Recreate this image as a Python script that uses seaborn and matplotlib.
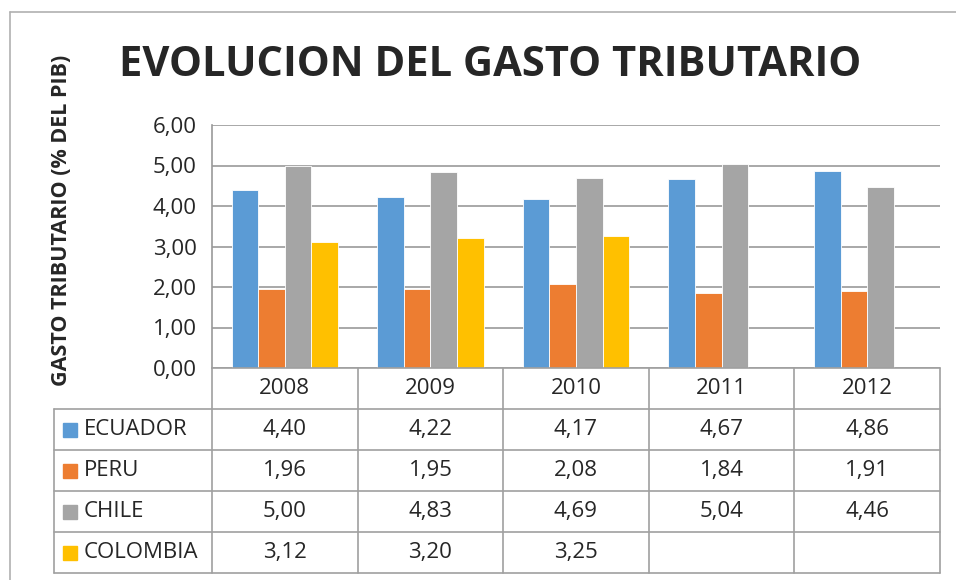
import matplotlib
matplotlib.use("Agg")
import matplotlib.pyplot as plt
import seaborn as sns
import pandas as pd
from matplotlib.patches import Rectangle
from matplotlib.lines import Line2D

years = ["2008", "2009", "2010", "2011", "2012"]
countries = ["ECUADOR", "PERU", "CHILE", "COLOMBIA"]
ecuador = [4.40, 4.22, 4.17, 4.67, 4.86]
peru = [1.96, 1.95, 2.08, 1.84, 1.91]
chile = [5.00, 4.83, 4.69, 5.04, 4.46]
colombia = [3.12, 3.20, 3.25, None, None]
colors = ["#5B9BD5", "#ED7D31", "#A5A5A5", "#FFC000"]

series = {"ECUADOR": ecuador, "PERU": peru, "CHILE": chile, "COLOMBIA": colombia}
rows = []
for c in countries:
    for y, v in zip(years, series[c]):
        rows.append({"year": y, "country": c, "value": v})
df = pd.DataFrame(rows)

sns.set_style("white")
plt.rcParams["font.family"] = ["Open Sans", "DejaVu Sans"]

W, H = 956, 580
fig = plt.figure(figsize=(W / 100, H / 100), dpi=100)
# plot area in pixel coords
L, R, T, B = 212, 940, 125, 368
ax = fig.add_axes([L / W, 1 - B / H, (R - L) / W, (B - T) / H])

sns.barplot(data=df, x="year", y="value", hue="country", order=years,
            hue_order=countries, palette=colors, width=0.73, saturation=1,
            edgecolor="white", linewidth=0.6, errorbar=None, legend=False, ax=ax)

ax.set_ylim(0, 6)
ax.set_xlim(-0.5, 4.5)
ax.set_yticks(range(7))
ax.set_yticklabels([f"{v:.2f}".replace(".", ",") for v in range(7)], fontsize=16)
ax.yaxis.grid(True, color="#999999", linewidth=1.2)
ax.set_axisbelow(True)
ax.set_xticks([])
ax.set_xlabel("")
ax.set_ylabel("")
ax.tick_params(axis="y", length=0, pad=11)
for s in ["top", "right", "bottom"]:
    ax.spines[s].set_visible(False)
ax.spines["left"].set_color("#999999")
ax.spines["left"].set_linewidth(1.2)

# data table below the plot, in pixel coords
def px(x, y):
    return x / W, 1 - y / H

line_kw = dict(color="#a0a0a0", linewidth=1.2, transform=fig.transFigure)
col_x = [L + i * (R - L) / len(years) for i in range(len(years) + 1)]
row_y = [B + i * 41 for i in range(6)]
lab_left = 54

# horizontal lines
fig.add_artist(Line2D(*zip(px(L, row_y[0]), px(R, row_y[0])), **line_kw))
for yy in row_y[1:]:
    fig.add_artist(Line2D(*zip(px(lab_left, yy), px(R, yy)), **line_kw))
# vertical lines
for xx in col_x:
    fig.add_artist(Line2D(*zip(px(xx, row_y[0]), px(xx, row_y[-1])), **line_kw))
fig.add_artist(Line2D(*zip(px(lab_left, row_y[1]), px(lab_left, row_y[-1])), **line_kw))

for i, yr in enumerate(years):
    cx = (col_x[i] + col_x[i + 1]) / 2
    fig.text(*px(cx, (row_y[0] + row_y[1]) / 2), yr, ha="center", va="center", fontsize=16)

for r, c in enumerate(countries):
    cy = (row_y[r + 1] + row_y[r + 2]) / 2
    fig.add_artist(Rectangle(px(63, cy + 7), 14 / W, 14 / H, color=colors[r],
                             transform=fig.transFigure))
    fig.text(*px(84, cy), c, ha="left", va="center", fontsize=16)
    for i, v in enumerate(series[c]):
        if v is None:
            continue
        cx = (col_x[i] + col_x[i + 1]) / 2
        fig.text(*px(cx, cy), f"{v:.2f}".replace(".", ","), ha="center",
                 va="center", fontsize=16)

fig.text(*px(490, 66), "EVOLUCION DEL GASTO TRIBUTARIO", ha="center", va="center",
         fontsize=30, fontweight="bold")
fig.text(*px(62, 220), "GASTO TRIBUTARIO (% DEL PIB)", ha="center", va="center",
         rotation=90, fontsize=15.5, fontweight="bold")

# outer chart border
fig.add_artist(Line2D(*zip(px(10, 12), px(W + 5, 12)), color="#b0b0b0", linewidth=1.2,
                      transform=fig.transFigure))
fig.add_artist(Line2D(*zip(px(10, 12), px(10, H + 5)), color="#b0b0b0", linewidth=1.2,
                      transform=fig.transFigure))

fig.savefig("out.png", dpi=100)
